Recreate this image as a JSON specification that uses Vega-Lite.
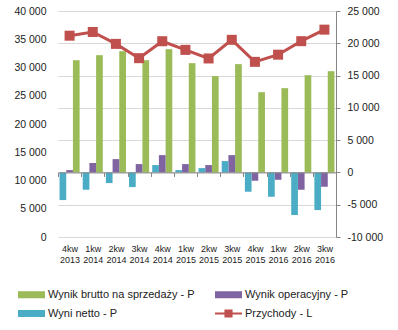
{
  "$schema": "https://vega.github.io/schema/vega-lite/v6.json",
  "width": 278,
  "height": 226,
  "autosize": {"type": "none"},
  "padding": {"left": 58, "top": 11, "right": 62, "bottom": 93},
  "background": "white",
  "config": {
    "view": {"stroke": null},
    "font": "Liberation Sans",
    "axis": {"labelFont": "Liberation Sans", "labelColor": "#222222", "title": null}
  },
  "datasets": {
    "bars": [
      {"q": "4kw 2013", "s": "Wynik brutto na sprzedaży - P", "v": 17380},
      {"q": "1kw 2014", "s": "Wynik brutto na sprzedaży - P", "v": 18160},
      {"q": "2kw 2014", "s": "Wynik brutto na sprzedaży - P", "v": 18780},
      {"q": "3kw 2014", "s": "Wynik brutto na sprzedaży - P", "v": 17380},
      {"q": "4kw 2014", "s": "Wynik brutto na sprzedaży - P", "v": 19090},
      {"q": "1kw 2015", "s": "Wynik brutto na sprzedaży - P", "v": 16920},
      {"q": "2kw 2015", "s": "Wynik brutto na sprzedaży - P", "v": 14910},
      {"q": "3kw 2015", "s": "Wynik brutto na sprzedaży - P", "v": 16770},
      {"q": "4kw 2015", "s": "Wynik brutto na sprzedaży - P", "v": 12430},
      {"q": "1kw 2016", "s": "Wynik brutto na sprzedaży - P", "v": 13050},
      {"q": "2kw 2016", "s": "Wynik brutto na sprzedaży - P", "v": 15060},
      {"q": "3kw 2016", "s": "Wynik brutto na sprzedaży - P", "v": 15680},
      {"q": "4kw 2013", "s": "Wynik operacyjny - P", "v": 360},
      {"q": "1kw 2014", "s": "Wynik operacyjny - P", "v": 1450},
      {"q": "2kw 2014", "s": "Wynik operacyjny - P", "v": 2060},
      {"q": "3kw 2014", "s": "Wynik operacyjny - P", "v": 1290},
      {"q": "4kw 2014", "s": "Wynik operacyjny - P", "v": 2680},
      {"q": "1kw 2015", "s": "Wynik operacyjny - P", "v": 1290},
      {"q": "2kw 2015", "s": "Wynik operacyjny - P", "v": 1140},
      {"q": "3kw 2015", "s": "Wynik operacyjny - P", "v": 2680},
      {"q": "4kw 2015", "s": "Wynik operacyjny - P", "v": -1290},
      {"q": "1kw 2016", "s": "Wynik operacyjny - P", "v": -1140},
      {"q": "2kw 2016", "s": "Wynik operacyjny - P", "v": -2680},
      {"q": "3kw 2016", "s": "Wynik operacyjny - P", "v": -2220},
      {"q": "4kw 2013", "s": "Wyni netto - P", "v": -4280},
      {"q": "1kw 2014", "s": "Wyni netto - P", "v": -2680},
      {"q": "2kw 2014", "s": "Wyni netto - P", "v": -1650},
      {"q": "3kw 2014", "s": "Wyni netto - P", "v": -2270},
      {"q": "4kw 2014", "s": "Wyni netto - P", "v": 1140},
      {"q": "1kw 2015", "s": "Wyni netto - P", "v": 360},
      {"q": "2kw 2015", "s": "Wyni netto - P", "v": 670},
      {"q": "3kw 2015", "s": "Wyni netto - P", "v": 1760},
      {"q": "4kw 2015", "s": "Wyni netto - P", "v": -2990},
      {"q": "1kw 2016", "s": "Wyni netto - P", "v": -3770},
      {"q": "2kw 2016", "s": "Wyni netto - P", "v": -6600},
      {"q": "3kw 2016", "s": "Wyni netto - P", "v": -5830}
    ],
    "line": [
      {"q": "4kw 2013", "s": "Przychody - L", "v": 35630},
      {"q": "1kw 2014", "s": "Przychody - L", "v": 36290},
      {"q": "2kw 2014", "s": "Przychody - L", "v": 34180},
      {"q": "3kw 2014", "s": "Przychody - L", "v": 31650},
      {"q": "4kw 2014", "s": "Przychody - L", "v": 34650},
      {"q": "1kw 2015", "s": "Przychody - L", "v": 33120},
      {"q": "2kw 2015", "s": "Przychody - L", "v": 31600},
      {"q": "3kw 2015", "s": "Przychody - L", "v": 34900},
      {"q": "4kw 2015", "s": "Przychody - L", "v": 31000},
      {"q": "1kw 2016", "s": "Przychody - L", "v": 32270},
      {"q": "2kw 2016", "s": "Przychody - L", "v": 34660},
      {"q": "3kw 2016", "s": "Przychody - L", "v": 36700}
    ]
  },
  "layer": [
    {
      "data": {"name": "bars"},
      "mark": {"type": "bar", "strokeWidth": 0},
      "encoding": {
        "x": {
          "field": "q", "type": "nominal",
          "sort": ["4kw 2013","1kw 2014","2kw 2014","3kw 2014","4kw 2014","1kw 2015","2kw 2015","3kw 2015","4kw 2015","1kw 2016","2kw 2016","3kw 2016"],
          "scale": {"paddingInner": 0, "paddingOuter": 0},
          "axis": {
            "orient": "bottom", "offset": -64.57, "tickBand": "extent",
            "domainColor": "#868686", "tickColor": "#868686", "tickSize": 4,
            "labelPadding": 68, "labelAngle": 0, "labelFontSize": 9, "labelLineHeight": 11.5,
            "labelExpr": "isValid(datum.value) ? split(datum.value, ' ') : ''", "grid": false, "zindex": 1
          }
        },
        "xOffset": {
          "field": "s",
          "sort": ["Wyni netto - P", "Wynik operacyjny - P", "Wynik brutto na sprzedaży - P"],
          "scale": {"paddingInner": 0, "paddingOuter": 0.23}
        },
        "y": {
          "field": "v", "type": "quantitative",
          "scale": {"domain": [-10000, 25000], "nice": false, "zero": false},
          "axis": {
            "orient": "right",
            "values": [-10000, -5000, 0, 5000, 10000, 15000, 20000, 25000],
            "grid": true, "gridColor": "#D9D9D9",
            "domainColor": "#868686", "tickColor": "#868686", "tickSize": 4,
            "labelPadding": 7, "labelFontSize": 10.5,
            "labelExpr": "replace(replace(format(datum.value, ','), ',', ' '), '\u2212', '-')"
          }
        },
        "color": {
          "field": "s", "type": "nominal",
          "scale": {
            "domain": ["Wynik brutto na sprzedaży - P", "Wynik operacyjny - P", "Wyni netto - P", "Przychody - L"],
            "range": ["#9BBB59", "#8064A2", "#4BACC6", "#C0504D"]
          },
          "legend": {
            "orient": "none", "legendX": -40, "legendY": 270, "direction": "horizontal",
            "columns": 2, "columnPadding": 20, "rowPadding": -4,
            "symbolSize": 729, "symbolStrokeWidth": 0, "labelOffset": 3,
            "labelFontSize": 11, "labelFont": "Liberation Sans", "labelColor": "#222222",
            "labelLimit": 300, "title": null,
            "encode": {
              "symbols": {
                "update": {
                  "shape": {"signal": "datum.value == 'Przychody - L' ? 'M-1,-0.08H1V0.08H-1Z M-0.3,-0.3H0.3V0.3H-0.3Z' : 'M-1,-0.26H1V0.26H-1Z'"},
                  "fill": {"signal": "scale('color', datum.value)"},
                  "stroke": {"value": "transparent"},
                  "opacity": {"value": 1},
                  "fillOpacity": {"value": 1}
                }
              }
            }
          }
        }
      }
    },
    {
      "data": {"name": "line"},
      "mark": {"type": "line", "strokeWidth": 3, "point": {"shape": "square", "size": 100, "filled": true, "opacity": 1}},
      "encoding": {
        "x": {
          "field": "q", "type": "nominal",
          "sort": ["4kw 2013","1kw 2014","2kw 2014","3kw 2014","4kw 2014","1kw 2015","2kw 2015","3kw 2015","4kw 2015","1kw 2016","2kw 2016","3kw 2016"]
        },
        "y": {
          "field": "v", "type": "quantitative",
          "scale": {"domain": [0, 40000], "nice": false},
          "axis": {
            "orient": "left",
            "values": [0, 5000, 10000, 15000, 20000, 25000, 30000, 35000, 40000],
            "grid": false, "domain": false, "ticks": false, "tickSize": 0,
            "labelPadding": 12, "labelFontSize": 10.5,
            "labelExpr": "replace(format(datum.value, ','), ',', ' ')"
          }
        },
        "color": {"field": "s", "type": "nominal"}
      }
    }
  ],
  "resolve": {"scale": {"y": "independent"}}
}
